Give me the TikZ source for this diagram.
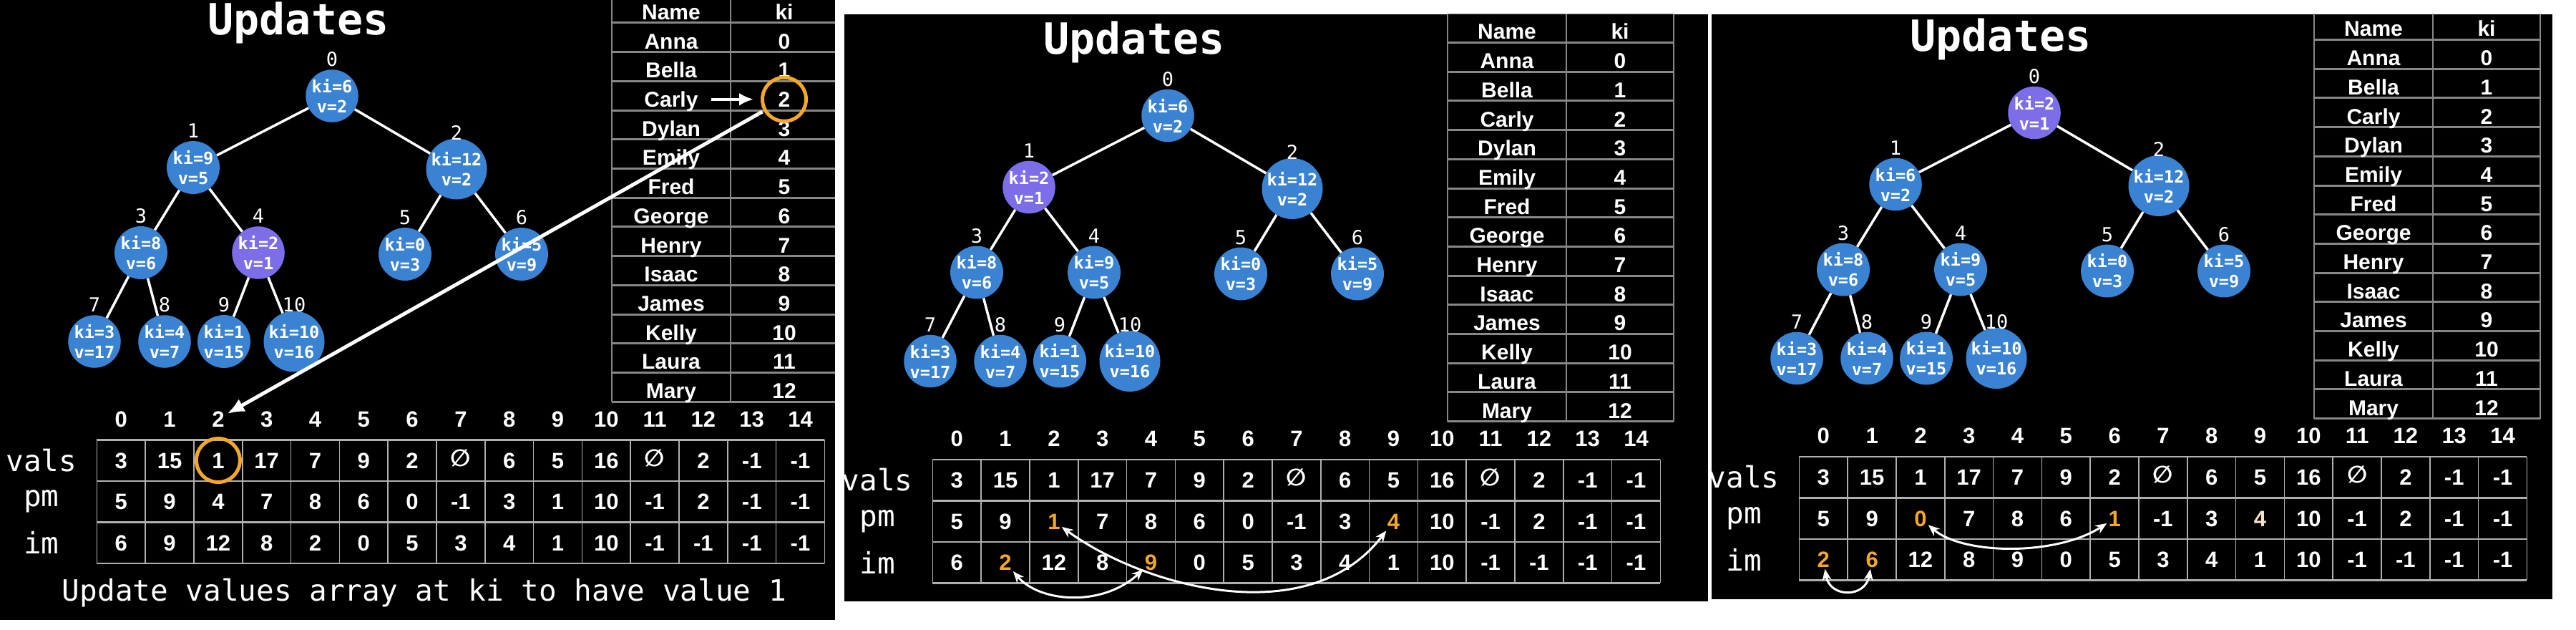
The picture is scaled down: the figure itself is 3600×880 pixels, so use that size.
\documentclass[tikz,border=0pt]{standalone}
\usepackage{fontspec}
\usetikzlibrary{arrows.meta}
\newfontfamily\mono{DejaVu Sans Mono}
\newfontfamily\arial{Liberation Sans}
\newfontfamily\dejavu{DejaVu Sans}
\definecolor{nodeblue}{RGB}{58,130,210}
\definecolor{nodepurple}{RGB}{124,110,232}
\definecolor{orangeC}{RGB}{245,168,40}
\definecolor{paleorange}{RGB}{245,228,195}
\definecolor{tgray}{RGB}{135,135,135}
\definecolor{ggray}{RGB}{175,175,175}
\newcommand\hlo{\color{orangeC}}
\newcommand\hlp{\color{paleorange}}
\newcommand\emptyc{{\dejavu\fontsize{33}{33}\selectfont\raisebox{3pt}{∅}}}
\tikzset{
  tnode/.style={circle,minimum size=72pt,inner sep=0pt,text=white,
    font=\mono\bfseries\fontsize{23.5}{28}\selectfont,align=center},
  treeedge/.style={draw=white,line width=3.5pt},
  nlbl/.style={text=white,font=\mono\fontsize{27}{27}\selectfont,inner sep=0pt},
  tbl/.style={text=white,font=\arial\bfseries\fontsize{30}{30}\selectfont,inner sep=0pt,
    text height=21.5pt,text depth=0pt},
  tline/.style={draw=tgray,line width=3pt},
  tvline/.style={draw=tgray,line width=2.5pt},
  arrtxt/.style={text=white,font=\arial\bfseries\fontsize{31}{31}\selectfont,inner sep=2pt,
    text height=22.3pt,text depth=0pt},
  gvline/.style={draw=ggray,line width=1.6pt},
  ghline/.style={draw=ggray,line width=2.4pt},
  rlbl/.style={text=white,font=\mono\fontsize{41}{41}\selectfont,inner sep=0pt},
  titl/.style={text=white,font=\mono\bfseries\fontsize{60}{60}\selectfont,inner sep=0pt,anchor=base},
  btxt/.style={text=white,font=\mono\fontsize{41}{41}\selectfont,inner sep=0pt},
  ocirc/.style={circle,draw=orangeC,line width=5pt,minimum size=61pt,inner sep=0pt},
  sarr/.style={draw=white,line width=4pt,-{Latex[length=20pt,width=18pt]}},
  larr/.style={draw=white,line width=5pt,-{Latex[length=24pt,width=20pt]}},
  carr/.style={draw=white,line width=3pt,{Stealth[length=16pt,width=13pt]}-{Stealth[length=16pt,width=13pt]}},
}
\newcommand\nametable[1]{%
  \foreach \k in {0,...,14}{\draw[tline] (855,{-8.7+40.7*\k}) -- (1171,{-8.7+40.7*\k});}
  \foreach \xx in {855,1021,1171}{\draw[tvline] (\xx,-8.7) -- (\xx,561.1);}
  \foreach \nm/\kv [count=\ri from 0] in {Name/ki,Anna/0,Bella/1,Carly/2,Dylan/3,Emily/4,Fred/5,George/6,Henry/7,Isaac/8,James/9,Kelly/10,Laura/11,Mary/12}{%
    \node[tbl] (#1tn\ri) at (938,{-3.7+40.7*(\ri+0.5)}) {\nm};
    \node[tbl] (#1tk\ri) at (1096,{-3.7+40.7*(\ri+0.5)}) {\kv};
  }%
}
\newcommand\drawgrid[3]{%
  \foreach \i in {0,...,15}{\draw[gvline] ({135.4+67.8*\i},614.3) -- ({135.4+67.8*\i},786.8);}
  \foreach \j in {0,...,3}{\draw[ghline] (135.4,{614.3+57.5*\j}) -- (1152.4,{614.3+57.5*\j});}
  \foreach \i in {0,...,14}{\node[arrtxt] (#1ix\i) at ({169.3+67.8*\i},585) {\i};}
  \foreach \v [count=\i from 0] in {3,15,1,17,7,9,2,\emptyc,6,5,16,\emptyc,2,-1,-1}{\node[arrtxt] (#1va\i) at ({169.3+67.8*\i},643) {\v};}
  \foreach \v [count=\i from 0] in {#2}{\node[arrtxt] (#1pm\i) at ({169.3+67.8*\i},700.5) {\v};}
  \foreach \v [count=\i from 0] in {#3}{\node[arrtxt] (#1im\i) at ({169.3+67.8*\i},758) {\v};}
  \node[rlbl] (#1rv) at (58,643) {vals};
  \node[rlbl] (#1rp) at (58,700.5) {pm};
  \node[rlbl] (#1ri) at (58,758) {im};
}
\newcommand\drawtree[2]{%
  \foreach \x/\y/\k/\vv/\st [count=\n from 0] in {#2}{%
    \node[tnode,fill=\st] (#1n\n) at (\x,\y) {ki=\k\\v=\vv};
    \node[nlbl] (#1l\n) at (\x,{\y-51}) {\n};
  }%
  \foreach \a/\b in {0/1,0/2,1/3,1/4,2/5,2/6,3/7,3/8,4/9,4/10}{\draw[treeedge] (#1n\a) -- (#1n\b);}
}
\newcommand\slide[4]{%
  \node[titl] (#1tt) at (417,48.5) {Updates};
  \drawtree{#1}{#2}%
  \nametable{#1}%
  \drawgrid{#1}{#3}{#4}%
}
\begin{document}
\begin{tikzpicture}[x=1pt,y=-1pt]
\useasboundingbox (0,0) rectangle (3600,880);
\fill[white] (0,0) rectangle (3600,880);
% ---------- panel 1
\begin{scope}
  \clip (0,0) rectangle (1167,866);
  \fill[black] (0,0) rectangle (1167,866);
  \slide{a}{464/134/6/2/nodeblue,270/234/9/5/nodeblue,638/236/12/2/nodeblue,197/353/8/6/nodeblue,361/353/2/1/nodepurple,566/355/0/3/nodeblue,729/355/5/9/nodeblue,132/477/3/17/nodeblue,230/477/4/7/nodeblue,313/477/1/15/nodeblue,411/477/10/16/nodeblue}%
    {5,9,4,7,8,6,0,-1,3,1,10,-1,2,-1,-1}{6,9,12,8,2,0,5,3,4,1,10,-1,-1,-1,-1}
  \node[ocirc] (acirc) at (atk3) {};
  \node[ocirc] (avcirc) at (ava2) {};
  \draw[sarr,shorten <=18pt,shorten >=10pt] (atn3) -- (acirc);
  \draw[larr,shorten <=2pt,shorten >=2pt] (acirc) -- (aix2);
  \node[btxt] (abot) at (593,828) {Update values array at ki to have value 1};
\end{scope}
% ---------- panel 2
\begin{scope}
  \clip (1180,20) rectangle (2387,840);
  \fill[black] (1180,20) rectangle (2387,840);
  \begin{scope}[shift={(1168,27.5)}]
  \slide{b}{464/134/6/2/nodeblue,270/234/2/1/nodepurple,638/236/12/2/nodeblue,197/353/8/6/nodeblue,361/353/9/5/nodeblue,566/355/0/3/nodeblue,729/355/5/9/nodeblue,132/477/3/17/nodeblue,230/477/4/7/nodeblue,313/477/1/15/nodeblue,411/477/10/16/nodeblue}%
    {5,9,{\hlo 1},7,8,6,0,-1,3,{\hlo 4},10,-1,2,-1,-1}{6,{\hlo 2},12,8,{\hlo 9},0,5,3,4,1,10,-1,-1,-1,-1}
  \draw[carr] (bpm2) .. controls (430,792) and (660,856) .. (bpm9);
  \draw[carr] (bim1) .. controls (285,814) and (372,821) .. (bim4);
  \end{scope}
\end{scope}
% ---------- panel 3
\begin{scope}
  \clip (2392,20) rectangle (3567,837);
  \fill[black] (2392,20) rectangle (3567,837);
  \begin{scope}[shift={(2379,23.5)}]
  \slide{c}{464/134/2/1/nodepurple,270/234/6/2/nodeblue,638/236/12/2/nodeblue,197/353/8/6/nodeblue,361/353/9/5/nodeblue,566/355/0/3/nodeblue,729/355/5/9/nodeblue,132/477/3/17/nodeblue,230/477/4/7/nodeblue,313/477/1/15/nodeblue,411/477/10/16/nodeblue}%
    {5,9,{\hlo 0},7,8,6,{\hlo 1},-1,3,{\hlp 4},10,-1,2,-1,-1}{{\hlo 2},{\hlo 6},12,8,9,0,5,3,4,1,10,-1,-1,-1,-1}
  \draw[carr] (cpm2) .. controls (365,752) and (495,753) .. (cpm6);
  \draw[carr] (cim0) .. controls (178,812) and (228,812) .. (cim1);
  \end{scope}
\end{scope}
\end{tikzpicture}
\end{document}
